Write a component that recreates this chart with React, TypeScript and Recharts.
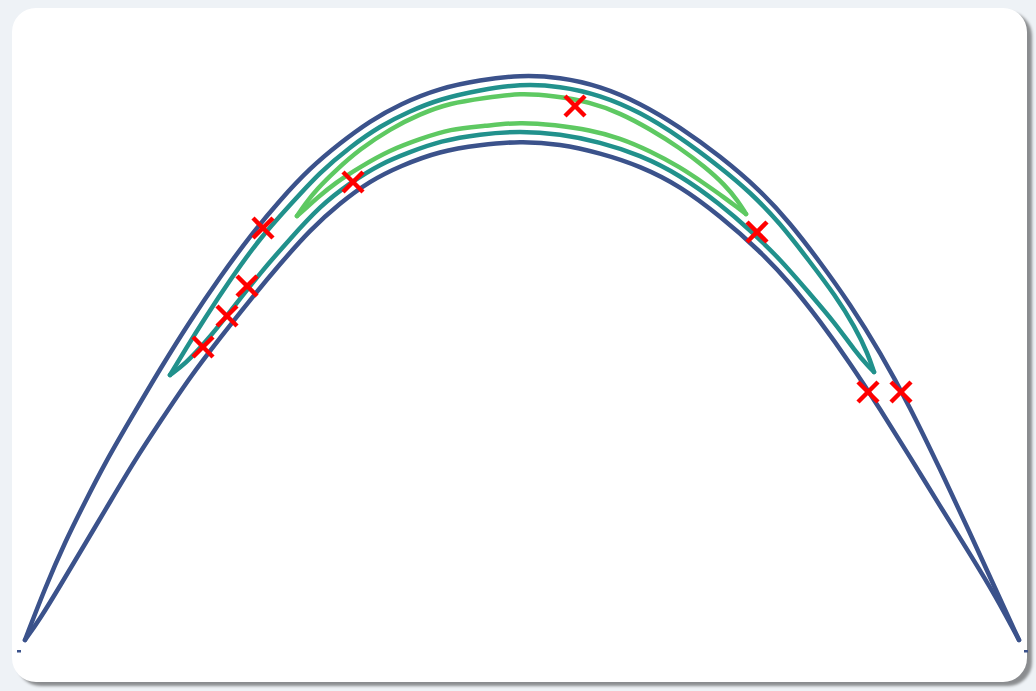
import React from "react";
import { ComposedChart, Scatter, XAxis, YAxis } from "recharts";

// Each closed contour is split into its upper and lower branch.
const blueUpper = [
  { x: 25, y: 640 }, { x: 45, y: 588 }, { x: 65, y: 542 }, { x: 85, y: 502 },
  { x: 105, y: 463 }, { x: 130, y: 420 }, { x: 160, y: 369 }, { x: 190, y: 321 },
  { x: 220, y: 277 }, { x: 250, y: 236 }, { x: 280, y: 200 }, { x: 310, y: 168 },
  { x: 340, y: 143 }, { x: 370, y: 121 }, { x: 400, y: 104 }, { x: 440, y: 88 },
  { x: 480, y: 80 }, { x: 520, y: 75 }, { x: 560, y: 77 }, { x: 600, y: 86 },
  { x: 640, y: 103 }, { x: 680, y: 127 }, { x: 720, y: 156 }, { x: 760, y: 190 },
  { x: 790, y: 223 }, { x: 820, y: 262 }, { x: 850, y: 304 }, { x: 880, y: 352 },
  { x: 910, y: 407 }, { x: 940, y: 469 }, { x: 970, y: 533 }, { x: 995, y: 588 },
  { x: 1019, y: 640 },
];
const blueLower = [
  { x: 25, y: 640 }, { x: 40, y: 619 }, { x: 60, y: 586 }, { x: 85, y: 544 },
  { x: 110, y: 502 }, { x: 135, y: 460 }, { x: 160, y: 422 }, { x: 190, y: 377 },
  { x: 220, y: 338 }, { x: 250, y: 300 }, { x: 280, y: 264 }, { x: 310, y: 230 },
  { x: 340, y: 203 }, { x: 370, y: 181 }, { x: 400, y: 166 }, { x: 440, y: 151 },
  { x: 480, y: 145 }, { x: 520, y: 141 }, { x: 560, y: 144 }, { x: 600, y: 153 },
  { x: 640, y: 166 }, { x: 680, y: 186 }, { x: 720, y: 216 }, { x: 760, y: 251 },
  { x: 790, y: 283 }, { x: 820, y: 321 }, { x: 850, y: 363 }, { x: 880, y: 409 },
  { x: 910, y: 457 }, { x: 940, y: 506 }, { x: 970, y: 554 }, { x: 995, y: 595 },
  { x: 1019, y: 640 },
];
const tealUpper = [
  { x: 170, y: 375 }, { x: 185, y: 350 }, { x: 205, y: 318 }, { x: 230, y: 280 },
  { x: 260, y: 238 }, { x: 290, y: 205 }, { x: 320, y: 172 }, { x: 350, y: 147 },
  { x: 380, y: 126 }, { x: 410, y: 111 }, { x: 440, y: 99 }, { x: 480, y: 90 },
  { x: 520, y: 84 }, { x: 560, y: 86 }, { x: 600, y: 95 }, { x: 640, y: 112 },
  { x: 680, y: 137 }, { x: 720, y: 167 }, { x: 750, y: 192 }, { x: 780, y: 223 },
  { x: 810, y: 262 }, { x: 835, y: 295 }, { x: 855, y: 327 }, { x: 868, y: 354 },
  { x: 874, y: 372 },
];
const tealLower = [
  { x: 170, y: 375 }, { x: 185, y: 364 }, { x: 205, y: 343 }, { x: 230, y: 312 },
  { x: 260, y: 273 }, { x: 290, y: 239 }, { x: 320, y: 206 }, { x: 350, y: 183 },
  { x: 380, y: 164 }, { x: 410, y: 152 }, { x: 440, y: 141 }, { x: 480, y: 134 },
  { x: 520, y: 131 }, { x: 560, y: 134 }, { x: 600, y: 142 }, { x: 640, y: 155 },
  { x: 680, y: 175 }, { x: 720, y: 204 }, { x: 750, y: 230 }, { x: 780, y: 259 },
  { x: 810, y: 294 }, { x: 835, y: 323 }, { x: 855, y: 351 }, { x: 868, y: 366 },
  { x: 874, y: 372 },
];
const greenUpper = [
  { x: 297, y: 216 }, { x: 305, y: 204 }, { x: 317, y: 189 }, { x: 335, y: 171 },
  { x: 360, y: 149 }, { x: 390, y: 129 }, { x: 420, y: 114 }, { x: 450, y: 103 },
  { x: 485, y: 98 }, { x: 520, y: 93 }, { x: 555, y: 96 }, { x: 590, y: 102 },
  { x: 620, y: 113 }, { x: 650, y: 129 }, { x: 680, y: 148 }, { x: 705, y: 167 },
  { x: 725, y: 185 }, { x: 738, y: 201 }, { x: 746, y: 214 },
];
const greenLower = [
  { x: 297, y: 216 }, { x: 305, y: 209 }, { x: 317, y: 198 }, { x: 335, y: 183 },
  { x: 360, y: 167 }, { x: 390, y: 150 }, { x: 420, y: 139 }, { x: 450, y: 129 },
  { x: 485, y: 126 }, { x: 520, y: 122 }, { x: 555, y: 125 }, { x: 590, y: 130 },
  { x: 620, y: 138 }, { x: 650, y: 151 }, { x: 680, y: 167 }, { x: 705, y: 184 },
  { x: 725, y: 198 }, { x: 738, y: 208 }, { x: 746, y: 214 },
];
const strayDots = [
  { x: 19, y: 651 }, { x: 1026, y: 651 },
];
const crosses = [
  { x: 263, y: 228 }, { x: 247, y: 286 }, { x: 227, y: 316 }, { x: 203, y: 347 },
  { x: 353, y: 182 }, { x: 575, y: 106 }, { x: 757, y: 232 }, { x: 868, y: 392 },
  { x: 901, y: 392 },
];

const BLUE = "#3b528b";
const TEAL = "#21918c";
const GREEN = "#5ec962";
const LINE_W = 4.5;

const NoShape = () => <g />;

const Cross = (props: any) => {
  const { cx, cy } = props;
  const s = 10;
  return (
    <g stroke="#ff0000" strokeWidth={4.5} strokeLinecap="butt">
      <line x1={cx - s} y1={cy - s} x2={cx + s} y2={cy + s} />
      <line x1={cx - s} y1={cy + s} x2={cx + s} y2={cy - s} />
    </g>
  );
};

const Dot = (props: any) => {
  const { cx, cy } = props;
  return <rect x={cx - 2} y={cy - 1} width={4} height={2.5} fill={BLUE} />;
};

const branches = [
  { key: "bu", data: blueUpper, color: BLUE },
  { key: "bl", data: blueLower, color: BLUE },
  { key: "tu", data: tealUpper, color: TEAL },
  { key: "tl", data: tealLower, color: TEAL },
  { key: "gu", data: greenUpper, color: GREEN },
  { key: "gl", data: greenLower, color: GREEN },
];

export default function App() {
  return (
    <div
      style={{
        position: "fixed",
        left: 0,
        top: 0,
        width: 1036,
        height: 691,
        background: "#eef2f6",
        overflow: "hidden",
      }}
    >
      <div
        style={{
          position: "absolute",
          left: 12,
          top: 8,
          width: 1015,
          height: 674,
          borderRadius: 24,
          background: "#ffffff",
          boxShadow: "5px 4px 3px rgba(0,0,0,0.42)",
        }}
      />
      <div style={{ position: "absolute", left: 0, top: 0 }}>
        <ComposedChart
          width={1036}
          height={691}
          margin={{ top: 0, right: 0, bottom: 0, left: 0 }}
        >
          <XAxis type="number" dataKey="x" domain={[0, 1036]} hide />
          <YAxis type="number" dataKey="y" domain={[0, 691]} reversed hide />
          {branches.map((b) => (
            <Scatter
              key={b.key}
              data={b.data}
              line={{
                stroke: b.color,
                strokeWidth: LINE_W,
                fill: "none",
                strokeLinecap: "round",
                strokeLinejoin: "round",
              }}
              lineJointType="basis"
              shape={NoShape}
              isAnimationActive={false}
            />
          ))}
          <Scatter data={strayDots} shape={Dot} isAnimationActive={false} />
          <Scatter data={crosses} shape={Cross} isAnimationActive={false} />
        </ComposedChart>
      </div>
    </div>
  );
}
